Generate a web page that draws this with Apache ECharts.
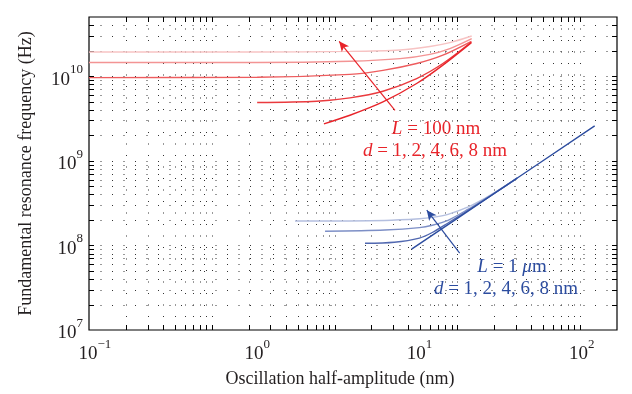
<!DOCTYPE html>
<html>
<head>
<meta charset="utf-8">
<script src="https://cdn.jsdelivr.net/npm/echarts@6/dist/echarts.min.js"></script>
<style>
  html, body { margin: 0; padding: 0; background: #fff; }
  #chart { width: 632px; height: 394px; }
</style>
</head>
<body>
<div id="chart"></div>
<script>
// L = 100 nm curves, lightest (d = 8) to darkest (d = 1)
const redA = [[0.092, 1.93e10], [1, 1.93e10], [3.73, 1.96e10], [7.59, 2.04e10], [11.6, 2.24e10], [15.4, 2.49e10], [21.0, 2.98e10]]
const redB = [[0.092, 1.45e10], [1, 1.45e10], [3.73, 1.5e10], [7.59, 1.61e10], [11.6, 1.81e10], [15.4, 2.12e10], [21.0, 2.78e10]]
const redC = [[0.092, 9.6e9], [1, 9.7e9], [3.73, 1.05e10], [5.96, 1.17e10], [9.61, 1.41e10], [13.95, 1.77e10], [20.9, 2.58e10]]
const redD = [[1.0, 4.88e9], [2.33, 5.06e9], [3.73, 5.53e9], [5.96, 6.63e9], [9.61, 9.37e9], [13.95, 1.41e10], [20.9, 2.53e10]]
const redE = [[2.58, 2.73e9], [3.73, 3.45e9], [5.96, 4.96e9], [9.61, 8.18e9], [13.95, 1.35e10], [20.9, 2.49e10]]

// L = 1 um curves
const blueB = [[1.71, 1.94e8], [6.13, 1.97e8], [10, 2.06e8], [12, 2.14e8], [15, 2.33e8], [20, 2.85e8], [25, 3.55e8], [30, 4.37e8], [40, 6.24e8]]
const blueC = [[2.62, 1.47e8], [6.13, 1.52e8], [10, 1.62e8], [12, 1.73e8], [15, 1.98e8], [20, 2.68e8], [25, 3.48e8], [30, 4.33e8], [40, 6.24e8]]
const blueD = [[4.62, 1.06e8], [7, 1.09e8], [10, 1.22e8], [12, 1.42e8], [15, 1.84e8], [20, 2.6e8], [25, 3.42e8], [30, 4.31e8], [40, 6.24e8]]
const blueE = [[8.95, 9.04e7], [30, 4.3e8], [120.2, 2.58e9]]

// annotation arrows [from, to]
const redArrow = [[7.07, 3.95e9], [3.2, 2.58e10]]
const blueArrow = [[17.7, 8.11e7], [11.1, 2.61e8]]

// grid lines (the dotted grid uses its own x scale, as in the original)
const yGrid = []
const xGrid = []
for (let e = 7; e <= 10; e++) {
  for (let m = 1; m <= 9; m++) {
    const v = m * Math.pow(10, e)
    if (v > 1e7 && v < 5e10) yGrid.push(v)
  }
}
for (let e = -1; e <= 2; e++) {
  for (let m = 1; m <= 9; m++) {
    const v = +(m * Math.pow(10, e)).toPrecision(3)
    if (v > 0.1) xGrid.push(v)
  }
}
xGrid.push(1000)

const FONT = 'Liberation Serif'
const INK = '#231f20'
const RED = '#e8242a'
const BLUE = '#2c4c9f'

const sup = (v) => '{b|10}{s|' + Math.round(Math.log10(v)).toString().replace('-', '\u2212') + '}'
const supRich = {
  b: { fontFamily: FONT, fontSize: 19, color: INK, lineHeight: 26, verticalAlign: 'bottom' },
  s: { fontFamily: FONT, fontSize: 13, color: INK, verticalAlign: 'top' }
}

const dot = { stroke: '#333', lineWidth: 1, lineDash: [1, 10.5], fill: null }
const tick = { stroke: '#000', lineWidth: 1, fill: null }

const hGridItem = function (params, api) {
  const cs = params.coordSys
  const y = Math.round(api.coord([1, api.value(1)])[1]) + 0.5
  return {
    type: 'group',
    children: [
      { type: 'line', shape: { x1: cs.x, y1: y, x2: cs.x + cs.width, y2: y }, style: dot },
      { type: 'line', shape: { x1: cs.x, y1: y, x2: cs.x + 5, y2: y }, style: tick },
      { type: 'line', shape: { x1: cs.x + cs.width - 5, y1: y, x2: cs.x + cs.width, y2: y }, style: tick }
    ]
  }
}
const vGridItem = function (params, api) {
  const cs = params.coordSys
  const x = Math.round(api.coord([api.value(0), 1e8])[0]) + 0.5
  return {
    type: 'group',
    children: [
      { type: 'line', shape: { x1: x, y1: cs.y, x2: x, y2: cs.y + cs.height }, style: dot },
      { type: 'line', shape: { x1: x, y1: cs.y + cs.height - 5, x2: x, y2: cs.y + cs.height }, style: tick },
      { type: 'line', shape: { x1: x, y1: cs.y, x2: x, y2: cs.y + 5 }, style: tick }
    ]
  }
}

const curve = (data, color) => ({
  type: 'line',
  data: data,
  xAxisIndex: 0,
  showSymbol: false,
  smooth: 0.3,
  z: 3,
  silent: true,
  lineStyle: { color: color, width: 1.4 }
})

const arrow = (pts, color) => ({
  silent: true,
  symbol: ['none', 'arrow'],
  symbolSize: [7, 10],
  label: { show: false },
  lineStyle: { color: color, width: 1.2, type: 'solid' },
  data: [[{ coord: pts[0] }, { coord: pts[1] }]]
})

const note = (x, y, text, color) => ({
  type: 'text',
  x: x,
  y: y,
  z: 10,
  style: {
    text: text,
    fontFamily: FONT,
    fontSize: 19,
    fill: color,
    align: 'center',
    verticalAlign: 'middle',
    rich: { i: { fontFamily: FONT, fontSize: 19, fontStyle: 'italic', fill: color } }
  }
})

const series = [
  { type: 'custom', xAxisIndex: 0, z: 1, silent: true, renderItem: hGridItem, data: yGrid.map((v) => [1, v]) },
  { type: 'custom', xAxisIndex: 1, z: 1, silent: true, renderItem: vGridItem, data: xGrid.map((v) => [v, 1e8]) },
  curve(redA, '#f7c3c3'),
  curve(redB, '#f39494'),
  curve(redC, '#ee5c5e'),
  curve(redD, '#ea3a3e'),
  Object.assign(curve(redE, RED), { markLine: arrow(redArrow, RED) }),
  curve(blueB, '#b4bfdf'),
  curve(blueC, '#7d8fc6'),
  curve(blueD, '#5168b0'),
  Object.assign(curve(blueE, BLUE), { markLine: arrow(blueArrow, BLUE) })
]

const chart = echarts.init(document.getElementById('chart'))
chart.setOption({
  animation: false,
  backgroundColor: '#fff',
  grid: {
    left: 89, right: 15, top: 17, bottom: 64,
    show: true, borderColor: '#000', borderWidth: 1.2, backgroundColor: 'transparent'
  },
  xAxis: [
    {
      type: 'log',
      logBase: 10,
      min: 0.092,
      max: 165,
      name: 'Oscillation half-amplitude (nm)',
      nameLocation: 'middle',
      nameGap: 40,
      nameTextStyle: { fontFamily: FONT, fontSize: 18, color: INK, padding: [0, 26, 0, 0] },
      axisLine: { show: false },
      axisTick: { show: false },
      splitLine: { show: false },
      axisLabel: {
        margin: 8,
        showMinLabel: false,
        showMaxLabel: false,
        formatter: sup,
        rich: supRich
      }
    },
    { type: 'log', logBase: 10, min: 0.1, max: 2000, show: false }
  ],
  yAxis: {
    type: 'log',
    logBase: 10,
    min: 1e7,
    max: 5e10,
    name: 'Fundamental resonance frequency (Hz)',
    nameLocation: 'middle',
    nameGap: 54,
    nameTextStyle: { fontFamily: FONT, fontSize: 18, color: INK },
    axisLine: { show: false },
    axisTick: { show: false },
    splitLine: { show: false },
    axisLabel: {
      margin: 6,
      showMaxLabel: false,
      formatter: sup,
      rich: supRich
    }
  },
  graphic: [
    note(436, 129, '{i|L} = 100 nm', RED),
    note(435, 151, '{i|d} = 1, 2, 4, 6, 8 nm', RED),
    note(512, 267, '{i|L} = 1 {i|\u03bc}m', BLUE),
    note(506, 289, '{i|d} = 1, 2, 4, 6, 8 nm', BLUE)
  ],
  series: series
})
</script>
</body>
</html>
